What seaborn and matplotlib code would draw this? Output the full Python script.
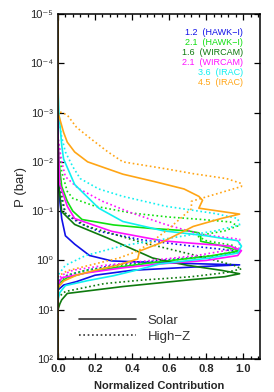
import numpy as np
import pandas as pd
import matplotlib
matplotlib.use("Agg")
import matplotlib.pyplot as plt
import seaborn as sns
from matplotlib.ticker import MultipleLocator, AutoMinorLocator, LogLocator, NullLocator, FuncFormatter
from matplotlib.lines import Line2D

# band labels and colours (legend order, top to bottom)
bands = ["1.2  (HAWK\u2212I)", "2.1  (HAWK\u2212I)", "1.6  (WIRCAM)",
         "2.1  (WIRCAM)", "3.6  (IRAC)", "4.5  (IRAC)"]
band_colors = ["#1010e8", "#10e010", "#0e7a0e", "#ff10ff", "#10f0f0", "#ffa515"]
models = ["Solar", "High\u2212Z"]

# contribution functions: log10(P/bar) and normalized contribution
blue_solar_logp = [-5, -2.0, -1.5, -1.2, -0.85, -0.5, -0.33, -0.1, 0.01, 0.05, 0.09, 0.12, 0.2, 0.3, 0.43, 0.5, 0.6, 2]
blue_solar_c = [0, 0, 0.005, 0.01, 0.02, 0.04, 0.09, 0.17, 0.29, 0.58, 0.98, 0.8, 0.4, 0.2, 0.1, 0.03, 0, 0]
blue_hiz_logp = [-5, -1.8, -1.3, -0.94, -0.75, -0.59, -0.42, -0.3, -0.22, -0.17, -0.1, 0.0, 0.1, 0.2, 0.3, 0.4, 0.6, 2]
blue_hiz_c = [0, 0, 0.015, 0.04, 0.12, 0.22, 0.45, 0.7, 0.9, 0.98, 0.85, 0.55, 0.3, 0.15, 0.05, 0.01, 0, 0]

lime_solar_logp = [-5, -2.5, -2.0, -1.5, -1.2, -1.0, -0.83, -0.72, -0.65, -0.6, -0.56, -0.5, -0.39, -0.3, -0.19, -0.09, 0.05, 0.15, 0.25, 0.35, 0.45, 0.6, 2]
lime_solar_c = [0, 0, 0.005, 0.02, 0.05, 0.08, 0.13, 0.3, 0.5, 0.7, 0.76, 0.77, 0.77, 0.88, 0.98, 0.82, 0.5, 0.3, 0.15, 0.05, 0.01, 0, 0]
lime_hiz_logp = [-5, -2.5, -1.8, -1.4, -1.26, -1.1, -0.96, -0.88, -0.83, -0.78, -0.7, -0.6, -0.5, -0.4, -0.3, -0.2, -0.1, 0.0, 0.1, 0.2, 0.3, 0.45, 0.6, 2]
lime_hiz_c = [0, 0, 0.02, 0.05, 0.08, 0.2, 0.4, 0.6, 0.78, 0.93, 0.97, 0.9, 0.75, 0.8, 0.95, 0.97, 0.85, 0.6, 0.35, 0.15, 0.05, 0.01, 0, 0]

dkgreen_solar_logp = [-5, -2.5, -1.5, -0.99, -0.73, -0.45, -0.2, -0.05, 0.01, 0.1, 0.2, 0.27, 0.33, 0.39, 0.53, 0.67, 0.8, 0.88, 1.0, 2]
dkgreen_solar_c = [0, 0, 0.005, 0.02, 0.09, 0.27, 0.42, 0.51, 0.58, 0.7, 0.88, 0.98, 0.9, 0.72, 0.35, 0.05, 0.02, 0.01, 0, 0]
dkgreen_hiz_logp = [-5, -2.5, -1.5, -0.96, -0.7, -0.39, -0.25, -0.05, 0.1, 0.17, 0.25, 0.33, 0.4, 0.47, 0.63, 0.75, 2]
dkgreen_hiz_c = [0, 0, 0.01, 0.04, 0.15, 0.43, 0.58, 0.8, 0.95, 0.99, 0.9, 0.72, 0.45, 0.25, 0.04, 0, 0]

mag_solar_logp = [-5, -2.5, -1.54, -1.1, -0.85, -0.59, -0.4, -0.35, -0.29, -0.2, -0.1, 0.0, 0.07, 0.15, 0.25, 0.35, 0.5, 2]
mag_solar_c = [0, 0, 0.01, 0.05, 0.09, 0.29, 0.56, 0.72, 0.93, 0.99, 0.97, 0.8, 0.55, 0.35, 0.16, 0.02, 0, 0]
mag_hiz_logp = [-5, -2.5, -2.0, -1.7, -1.46, -1.2, -0.96, -0.73, -0.53, -0.43, -0.25, -0.1, 0.0, 0.1, 0.2, 0.3, 0.4, 2]
mag_hiz_c = [0, 0, 0.02, 0.04, 0.11, 0.24, 0.4, 0.58, 0.77, 0.98, 0.98, 0.75, 0.5, 0.25, 0.08, 0.02, 0, 0]

cyan_solar_logp = [-5, -3.5, -3.0, -2.34, -2.06, -1.54, -1.06, -0.79, -0.6, -0.5, -0.4, -0.29, -0.15, -0.05, 0.07, 0.2, 0.31, 0.41, 0.51, 0.65, 0.8, 2]
cyan_solar_c = [0, 0, 0.005, 0.02, 0.03, 0.09, 0.22, 0.35, 0.57, 0.8, 0.97, 0.99, 0.97, 0.82, 0.55, 0.42, 0.3, 0.16, 0.04, 0.01, 0, 0]
cyan_hiz_logp = [-5, -3.0, -2.5, -2.2, -1.9, -1.66, -1.45, -1.3, -1.1, -0.95, -0.85, -0.72, -0.6, -0.45, -0.3, -0.1, 0.1, 0.3, 2]
cyan_hiz_c = [0, 0, 0.02, 0.04, 0.08, 0.12, 0.22, 0.35, 0.58, 0.85, 0.97, 0.98, 0.85, 0.6, 0.35, 0.15, 0.04, 0, 0]

orange_solar_logp = [-5, -3.0, -2.6, -2.4, -2.2, -2.0, -1.75, -1.6, -1.45, -1.3, -1.22, -1.06, -0.94, -0.85, -0.69, -0.5, -0.35, -0.19, -0.03, 0.1, 0.2, 0.3, 0.42, 0.55, 2]
orange_solar_c = [0, 0, 0.03, 0.05, 0.09, 0.16, 0.35, 0.52, 0.68, 0.76, 0.78, 0.76, 0.98, 0.88, 0.73, 0.63, 0.55, 0.44, 0.43, 0.32, 0.2, 0.1, 0.03, 0, 0]
orange_hiz_logp = [-5, -3.02, -3.0, -2.95, -2.7, -2.46, -2.2, -2.0, -1.86, -1.76, -1.66, -1.56, -1.5, -1.2, -1.05, -0.85, -0.65, -0.39, -0.19, -0.05, 0.07, 0.21, 0.32, 2]
orange_hiz_c = [0, 0, 0.02, 0.05, 0.1, 0.18, 0.27, 0.35, 0.58, 0.73, 0.91, 0.99, 0.99, 0.72, 0.72, 0.66, 0.6, 0.51, 0.43, 0.33, 0.2, 0.05, 0, 0]

curves = [
    (bands[0], models[0], blue_solar_logp, blue_solar_c),
    (bands[0], models[1], blue_hiz_logp, blue_hiz_c),
    (bands[1], models[0], lime_solar_logp, lime_solar_c),
    (bands[1], models[1], lime_hiz_logp, lime_hiz_c),
    (bands[2], models[0], dkgreen_solar_logp, dkgreen_solar_c),
    (bands[2], models[1], dkgreen_hiz_logp, dkgreen_hiz_c),
    (bands[3], models[0], mag_solar_logp, mag_solar_c),
    (bands[3], models[1], mag_hiz_logp, mag_hiz_c),
    (bands[4], models[0], cyan_solar_logp, cyan_solar_c),
    (bands[4], models[1], cyan_hiz_logp, cyan_hiz_c),
    (bands[5], models[0], orange_solar_logp, orange_solar_c),
    (bands[5], models[1], orange_hiz_logp, orange_hiz_c),
]

rows = []
for band, model, logp, c in curves:
    for lp, v in zip(logp, c):
        rows.append({"band": band, "model": model, "P": 10.0 ** lp, "contrib": v})
df = pd.DataFrame(rows)

sns.set_style("ticks")
plt.rcParams["font.family"] = ["Liberation Sans", "DejaVu Sans"]

fig = plt.figure(figsize=(2.74, 3.92), dpi=100)
ax = fig.add_axes([58 / 274, 1 - 359 / 392, 202 / 274, 345 / 392])

sns.lineplot(data=df, x="contrib", y="P", hue="band", style="model",
             hue_order=bands, palette=band_colors, style_order=models,
             dashes={models[0]: "", models[1]: (1, 1.6)},
             orient="y", sort=False, estimator=None, lw=1.2,
             legend=False, ax=ax)

sup = str.maketrans("-0123456789", "\u207b\u2070\u00b9\u00b2\u00b3\u2074\u2075\u2076\u2077\u2078\u2079")


def pow10(v, pos):
    e = int(round(np.log10(v)))
    return "10" + str(e).translate(sup)


ax.set_yscale("log")
ax.set_ylim(1e2, 1e-5)
ax.set_xlim(0, 1.09)
ax.yaxis.set_major_locator(LogLocator(base=10, numticks=10))
ax.yaxis.set_minor_locator(NullLocator())
ax.yaxis.set_major_formatter(FuncFormatter(pow10))
ax.xaxis.set_major_locator(MultipleLocator(0.2))
ax.xaxis.set_minor_locator(AutoMinorLocator(5))
ax.xaxis.set_major_formatter(matplotlib.ticker.FormatStrFormatter("%.1f"))

ax.tick_params(which="both", direction="in", top=True, right=True, width=0.9, color="black")
ax.tick_params(which="major", length=4.5, labelsize=8)
ax.tick_params(which="minor", length=2.2)
for lab in ax.get_xticklabels():
    lab.set_fontweight("bold")
for sp in ax.spines.values():
    sp.set_linewidth(1.1)
    sp.set_color("black")

ax.set_xlabel("Normalized Contribution", fontsize=8, fontweight="bold", labelpad=5)
ax.set_ylabel("P (bar)", fontsize=9.5, labelpad=2)

# coloured band labels, top right
for i, (b, col) in enumerate(zip(bands, band_colors)):
    ax.text(0.916, 0.947 - i * 0.029, b, color=col, fontsize=6.5,
            ha="right", va="center", transform=ax.transAxes)

# line-style key
handles = [Line2D([], [], color="#333333", lw=1.2, ls="-"),
           Line2D([], [], color="#333333", lw=1.2, ls=(0, (1, 1.6)))]
ax.legend(handles, ["Solar", "High\u2212Z"], loc="lower left",
          bbox_to_anchor=(0.09, 0.04), frameon=False, fontsize=9.5,
          handlelength=4.3, handletextpad=0.9, labelspacing=0.25,
          borderaxespad=0, borderpad=0.2, labelcolor="#333333")

fig.savefig("out.png", dpi=100)
